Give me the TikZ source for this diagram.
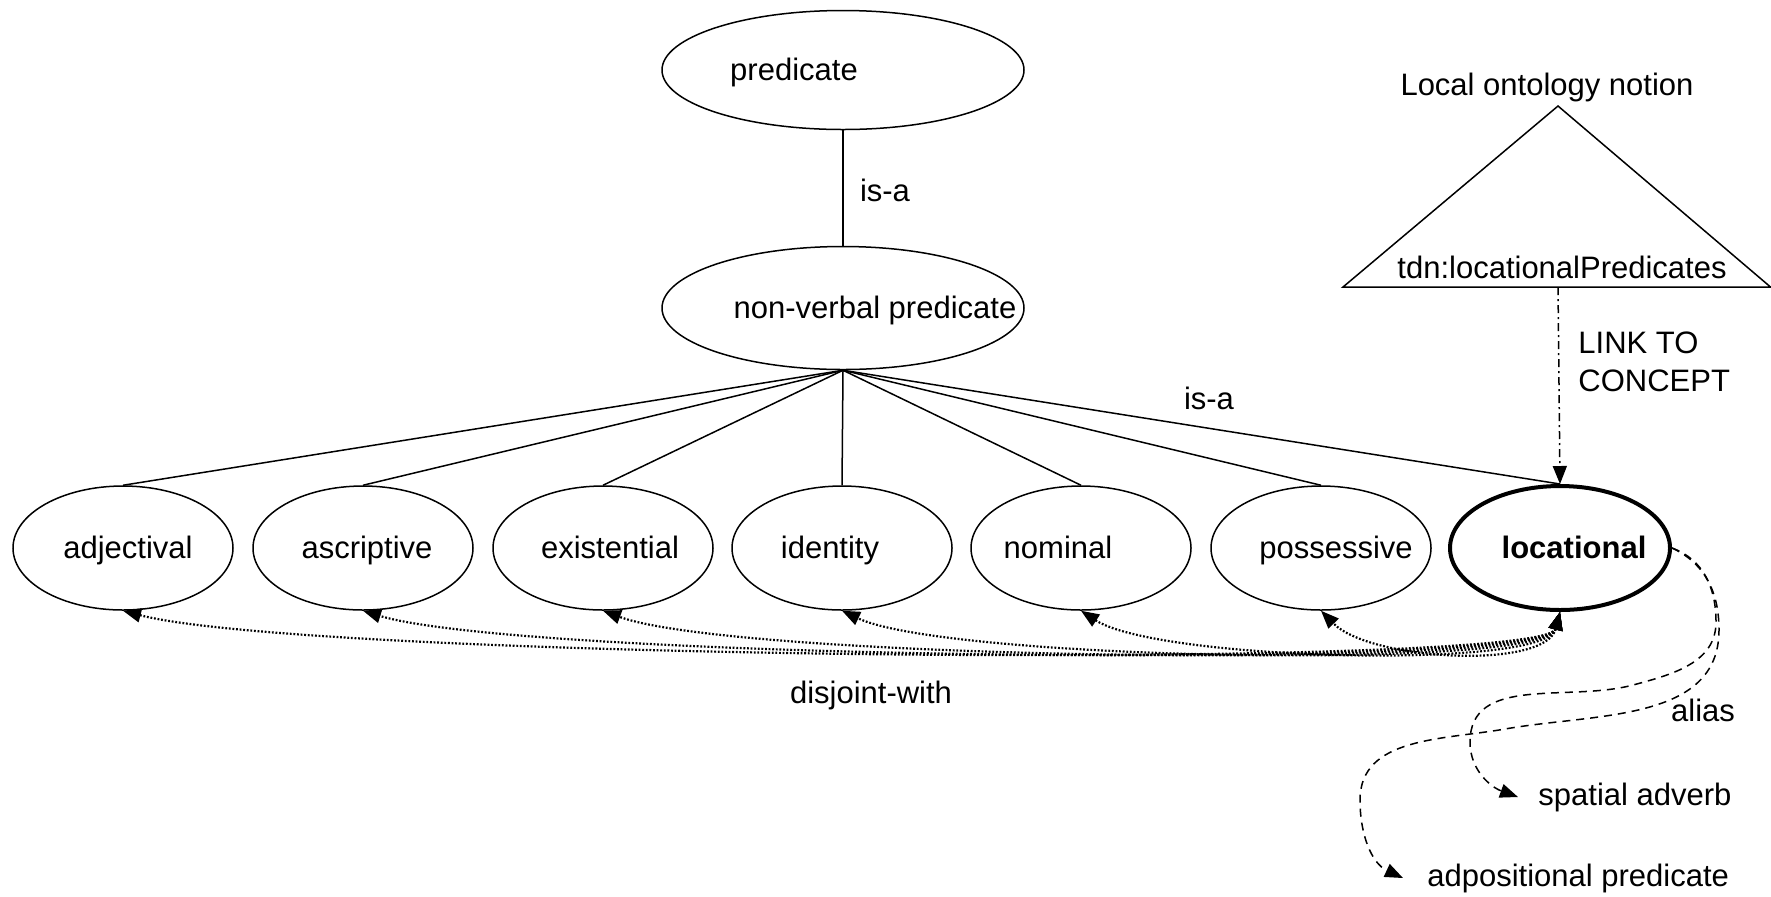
\documentclass[tikz,border=0pt]{standalone}
\usepackage{fontspec}
\setmainfont{Liberation Sans}
\usetikzlibrary{shapes.geometric,arrows.meta}
\begin{document}
\begin{tikzpicture}[x=0.5pt,y=0.5pt,
  font=\fontsize{15.5}{19}\selectfont,
  every label/.style={text height=11.5pt,text depth=3.5pt,inner sep=0pt,yshift=-1.2pt},
  ell/.style={ellipse,draw,line width=0.75pt,inner sep=0pt,
    minimum width=110pt,minimum height=62pt},
  bigell/.style={ell,minimum width=181pt},
  isa/.style={line width=0.75pt},
  disj/.style={line width=1.1pt,dash pattern=on 0.9pt off 0.9pt,
    {Triangle[length=9pt,width=7pt]}-{Triangle[length=9pt,width=7pt]}},
  alias/.style={line width=0.75pt,dash pattern=on 4pt off 3pt,
    -{Triangle[length=9pt,width=7pt]}},
  linkc/.style={line width=0.75pt,dash pattern=on 4pt off 2pt on 1pt off 2pt,
    -{Triangle[length=9pt,width=7pt]}},
  txt/.style={inner sep=0pt}]
\useasboundingbox (0,0) rectangle (1771,-896);

% upper hierarchy
\node[bigell,minimum height=59.5pt,label={[xshift=-24.5pt]center:predicate}] (pred) at (843,-70) {};
\node[bigell,minimum height=61.5pt,label={[xshift=16pt]center:non-verbal predicate}] (nvp) at (843,-308) {};

% kinds of non-verbal predicate
\node[ell,label={[xshift=2.5pt]center:adjectival}]   (adj) at (123,-548) {};
\node[ell,label={[xshift=2pt]center:ascriptive}]     (asc) at (363,-548) {};
\node[ell,label={[xshift=3.5pt]center:existential}]  (exi) at (603,-548) {};
\node[ell,label={[xshift=-6pt]center:identity}]      (ide) at (842,-548) {};
\node[ell,label={[xshift=-11.5pt]center:nominal}]    (nom) at (1081,-548) {};
\node[ell,label={[xshift=7.5pt]center:possessive}]   (pos) at (1321,-548) {};
\node[ell,line width=2pt,label={[xshift=7pt]center:\textbf{locational}}] (loc) at (1560,-548) {};

% is-a links
\draw[isa] (pred.south) -- (nvp.north);
\foreach \t in {adj,asc,exi,ide,nom,pos,loc}
  \draw[isa] (nvp.south) -- (\t.north);
\node[txt] (isa1) at (885,-190) {is-a};
\node[txt] (isa2) at (1209,-398) {is-a};

% disjointness among the kinds
\foreach \t/\d in {adj/192,asc/164,exi/135,ide/106,nom/77,pos/49}
  \draw[disj] (loc.south) .. controls +(-15,-58) and +(\d,-50) .. (\t.south);
\node[txt] (dw) at (871,-695) {disjoint-with};

% local ontology notion
\coordinate (tapex) at (1558,-106);
\coordinate (tleft) at (1343,-287);
\coordinate (tright) at (1770.5,-287);
\coordinate (tbase) at (1558,-287);
\draw[line width=0.75pt,line join=miter] (tleft) -- (tapex) -- (tright) -- cycle;
\node[txt] (lon) at (1547,-87) {Local ontology notion};
\node[txt] (tdn) at (1562,-267) {tdn:locationalPredicates};
\draw[linkc] (tbase) -- (loc.north);
\node[txt,anchor=west,align=left] (ltc) at (1578,-362) {LINK TO\\CONCEPT};

% aliases
\node[txt,anchor=west] (sa) at (1538,-797) {spatial adverb};
\node[txt,anchor=west] (ap) at (1427,-878) {adpositional predicate};
\node[txt] (al) at (1703,-710) {alias};
\draw[alias] (loc.east) to[out=-20,in=90] (1716,-622)
  to[out=-90,in=15] (1633,-685)
  to[out=195,in=90] (1470,-742)
  to[out=-90,in=160] ([xshift=-10pt]sa.west);
\draw[alias] (loc.east) to[out=-25,in=90] (1719,-630)
  to[out=-90,in=10] (1505,-729)
  to[out=190,in=90] (1360,-800)
  to[out=-90,in=155] ([xshift=-12pt]ap.west);
\end{tikzpicture}
\end{document}
